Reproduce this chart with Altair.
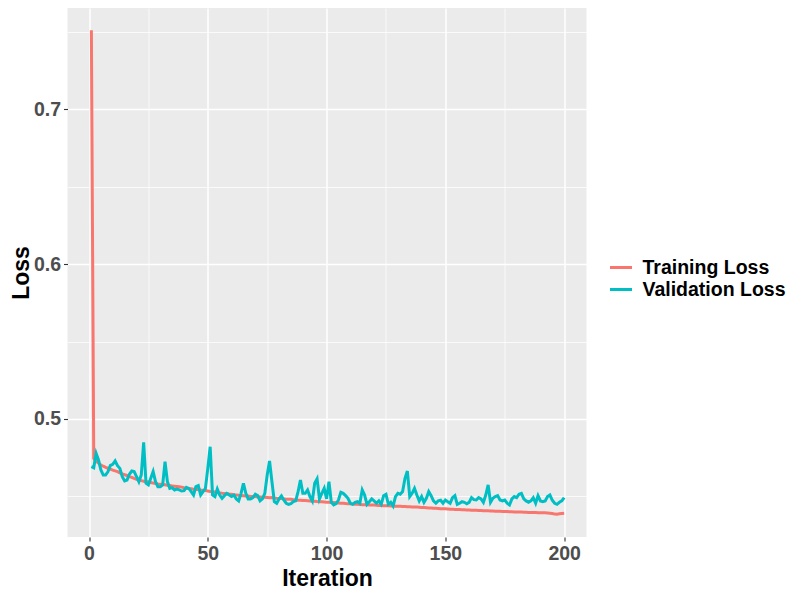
import altair as alt
import pandas as pd

iterations = list(range(1, 201))

training_loss = [
    0.7510, 0.4745, 0.4728, 0.4715, 0.4703, 0.4695, 0.4688, 0.4682, 0.4676, 0.4670,
    0.4665, 0.4660, 0.4652, 0.4645, 0.4640, 0.4635, 0.4628, 0.4623, 0.4616, 0.4610,
    0.4606, 0.4602, 0.4598, 0.4596, 0.4594, 0.4590, 0.4586, 0.4584, 0.4581, 0.4579,
    0.4577, 0.4575, 0.4572, 0.4570, 0.4568, 0.4566, 0.4564, 0.4562, 0.4560, 0.4556,
    0.4553, 0.4551, 0.4550, 0.4547, 0.4545, 0.4544, 0.4541, 0.4539, 0.4538, 0.4535,
    0.4532, 0.4531, 0.4528, 0.4525, 0.4523, 0.4520, 0.4519, 0.4517, 0.4515, 0.4514,
    0.4511, 0.4510, 0.4507, 0.4506, 0.4505, 0.4503, 0.4502, 0.4500, 0.4499, 0.4499,
    0.4497, 0.4496, 0.4495, 0.4494, 0.4493, 0.4491, 0.4493, 0.4490, 0.4488, 0.4487,
    0.4486, 0.4484, 0.4482, 0.4481, 0.4481, 0.4479, 0.4477, 0.4476, 0.4476, 0.4474,
    0.4473, 0.4472, 0.4471, 0.4469, 0.4469, 0.4467, 0.4466, 0.4465, 0.4464, 0.4463,
    0.4462, 0.4461, 0.4461, 0.4459, 0.4458, 0.4456, 0.4456, 0.4454, 0.4453, 0.4452,
    0.4451, 0.4450, 0.4450, 0.4448, 0.4447, 0.4447, 0.4446, 0.4445, 0.4444, 0.4444,
    0.4443, 0.4442, 0.4441, 0.4440, 0.4440, 0.4440, 0.4438, 0.4438, 0.4437, 0.4436,
    0.4436, 0.4435, 0.4435, 0.4434, 0.4433, 0.4432, 0.4431, 0.4431, 0.4430, 0.4429,
    0.4428, 0.4427, 0.4426, 0.4425, 0.4424, 0.4423, 0.4422, 0.4421, 0.4421, 0.4420,
    0.4419, 0.4418, 0.4418, 0.4416, 0.4415, 0.4415, 0.4414, 0.4414, 0.4413, 0.4412,
    0.4411, 0.4411, 0.4410, 0.4409, 0.4409, 0.4408, 0.4407, 0.4407, 0.4406, 0.4406,
    0.4405, 0.4405, 0.4404, 0.4403, 0.4403, 0.4402, 0.4401, 0.4401, 0.4400, 0.4400,
    0.4399, 0.4399, 0.4398, 0.4398, 0.4397, 0.4397, 0.4396, 0.4396, 0.4395, 0.4395,
    0.4394, 0.4394, 0.4393, 0.4392, 0.4390, 0.4386, 0.4385, 0.4388, 0.4390, 0.4391,
]

validation_loss = [
    0.4692, 0.4685, 0.4778, 0.4735, 0.4671, 0.4638, 0.4638, 0.4660, 0.4700, 0.4707,
    0.4729, 0.4699, 0.4681, 0.4628, 0.4600, 0.4606, 0.4643, 0.4664, 0.4660, 0.4628,
    0.4595, 0.4638, 0.4849, 0.4585, 0.4574, 0.4617, 0.4660, 0.4595, 0.4563, 0.4563,
    0.4574, 0.4724, 0.4595, 0.4552, 0.4557, 0.4542, 0.4548, 0.4542, 0.4535, 0.4537,
    0.4559, 0.4552, 0.4531, 0.4509, 0.4563, 0.4570, 0.4509, 0.4531, 0.4552, 0.4681,
    0.4821, 0.4509, 0.4499, 0.4548, 0.4509, 0.4488, 0.4505, 0.4520, 0.4509, 0.4499,
    0.4509, 0.4484, 0.4471, 0.4520, 0.4585, 0.4520, 0.4484, 0.4484, 0.4492, 0.4514,
    0.4505, 0.4471, 0.4484, 0.4520, 0.4638, 0.4729, 0.4595, 0.4466, 0.4456, 0.4484,
    0.4503, 0.4477, 0.4456, 0.4449, 0.4453, 0.4466, 0.4471, 0.4531, 0.4606, 0.4520,
    0.4520, 0.4542, 0.4499, 0.4471, 0.4585, 0.4613, 0.4484, 0.4520, 0.4552, 0.4484,
    0.4595, 0.4462, 0.4445, 0.4453, 0.4477, 0.4527, 0.4520, 0.4505, 0.4488, 0.4456,
    0.4449, 0.4462, 0.4466, 0.4456, 0.4542, 0.4509, 0.4449, 0.4466, 0.4484, 0.4471,
    0.4456, 0.4471, 0.4449, 0.4505, 0.4514, 0.4449, 0.4462, 0.4438, 0.4499, 0.4520,
    0.4514, 0.4531, 0.4617, 0.4664, 0.4499, 0.4520, 0.4552, 0.4509, 0.4471, 0.4499,
    0.4462, 0.4488, 0.4531, 0.4505, 0.4471, 0.4456, 0.4471, 0.4475, 0.4456, 0.4477,
    0.4466, 0.4456, 0.4492, 0.4505, 0.4449, 0.4456, 0.4466, 0.4462, 0.4453, 0.4462,
    0.4492, 0.4479, 0.4477, 0.4492, 0.4484, 0.4462, 0.4509, 0.4574, 0.4462, 0.4488,
    0.4499, 0.4505, 0.4477, 0.4471, 0.4477, 0.4456, 0.4445, 0.4484, 0.4499, 0.4492,
    0.4514, 0.4520, 0.4484, 0.4471, 0.4462, 0.4471, 0.4492, 0.4456, 0.4505, 0.4471,
    0.4466, 0.4471, 0.4499, 0.4509, 0.4475, 0.4456, 0.4449, 0.4462, 0.4471, 0.4492,
]

series_names = ["Training Loss", "Validation Loss"]
series_colors = ["#F8766D", "#00BFC4"]
x_ticks = [0, 25, 50, 75, 100, 125, 150, 175, 200]
y_ticks = [0.45, 0.5, 0.55, 0.6, 0.65, 0.7, 0.75]

df = pd.DataFrame({
    "Iteration": iterations + iterations,
    "Loss": training_loss + validation_loss,
    "variable": [series_names[0]] * len(training_loss) + [series_names[1]] * len(validation_loss),
})

FONT = "Liberation Sans"
x_major = "datum.value % 50 === 0"
y_major = "abs(datum.value * 10 - round(datum.value * 10)) < 0.001"


def axis_for(values, major_test, fmt, title_padding):
    return alt.Axis(
        values=values,
        format=fmt,
        labelExpr=f"({major_test}) ? datum.label : ''",
        labelOverlap=False,
        labelFont=FONT,
        labelFontSize=19.5,
        labelFontWeight="bold",
        labelColor="#4D4D4D",
        labelPadding=3,
        titleFont=FONT,
        titleFontSize=23,
        titleFontWeight="bold",
        titleColor="black",
        titlePadding=title_padding,
        domain=False,
        grid=True,
        gridColor="white",
        gridWidth={"condition": {"test": major_test, "value": 1.5}, "value": 0.75},
        ticks=True,
        tickColor="#333333",
        tickWidth=1.1,
        tickSize=4,
        tickOpacity={"condition": {"test": major_test, "value": 1}, "value": 0},
    )


chart = (
    alt.Chart(df)
    .mark_line(strokeWidth=3)
    .encode(
        x=alt.X(
            "Iteration:Q",
            title="Iteration",
            scale=alt.Scale(domain=[-9.05, 209.4], nice=False, zero=False),
            axis=axis_for(x_ticks, x_major, "d", 5),
        ),
        y=alt.Y(
            "Loss:Q",
            title="Loss",
            scale=alt.Scale(domain=[0.4238, 0.7654], nice=False, zero=False),
            axis=axis_for(y_ticks, y_major, ".1f", 0),
        ),
        color=alt.Color(
            "variable:N",
            scale=alt.Scale(domain=series_names, range=series_colors),
            legend=alt.Legend(
                title=None,
                orient="none",
                legendX=541,
                legendY=247,
                symbolType="stroke",
                symbolStrokeWidth=3,
                symbolSize=484,
                labelFont=FONT,
                labelFontSize=19.5,
                labelFontWeight="bold",
                labelColor="black",
                labelOffset=9,
                rowPadding=0,
                padding=0,
            ),
        ),
    )
    .properties(
        width=519,
        height=529,
        padding={"left": 1.5, "top": 0, "right": 0, "bottom": 0},
        background="white",
    )
    .configure_view(fill="#EBEBEB", strokeWidth=0)
)

chart.save("out.html", embed_options={"renderer": "svg", "actions": False})
